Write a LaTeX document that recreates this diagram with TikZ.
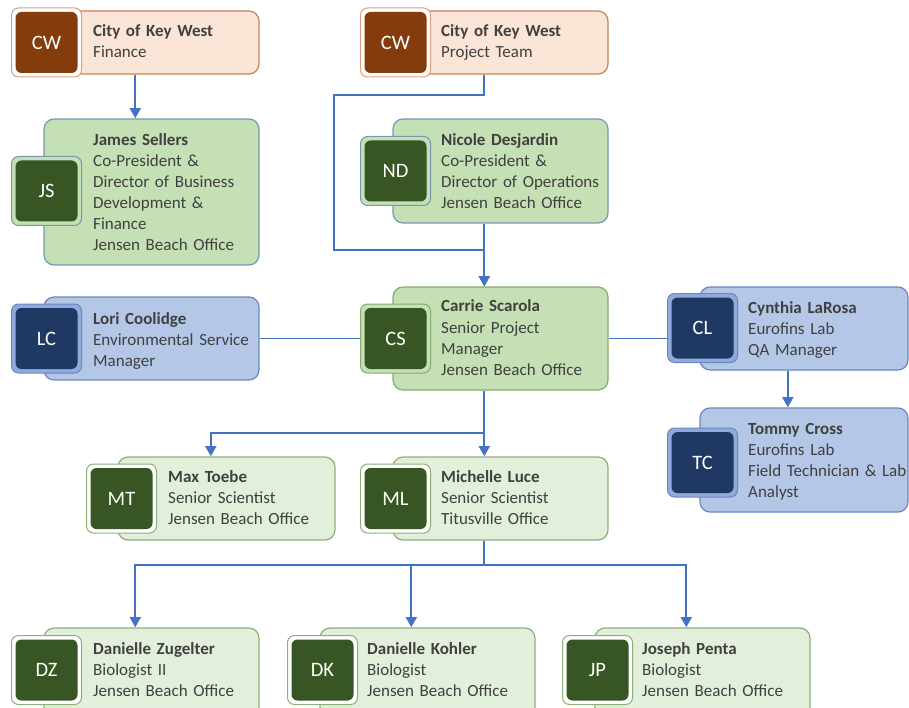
\documentclass[tikz,border=0pt]{standalone}
\usepackage{fontspec}
\setmainfont{Carlito}
\usetikzlibrary{arrows.meta,fit}
\definecolor{pfill}{HTML}{FBE5D6}
\definecolor{pline}{HTML}{C8824F}
\definecolor{pav}{HTML}{DDA17A}
\definecolor{pdark}{HTML}{843C0C}
\definecolor{gfill}{HTML}{C5E0B4}
\definecolor{gbline}{HTML}{7B96B2}
\definecolor{ggline}{HTML}{86AC6E}
\definecolor{gdark}{HTML}{375623}
\definecolor{lgfill}{HTML}{E2EFDA}
\definecolor{lgline}{HTML}{8DB07A}
\definecolor{bfill}{HTML}{B4C7E7}
\definecolor{bring}{HTML}{8FAADC}
\definecolor{bline}{HTML}{6A87BF}
\definecolor{bdark}{HTML}{203864}
\definecolor{cline}{HTML}{4472C4}
\definecolor{tgray}{HTML}{404040}
\tikzset{
  cardbox/.style={rectangle, rounded corners=10pt, line width=1.2pt, inner sep=0pt},
  avout/.style={rectangle, rounded corners=7pt, line width=1pt, minimum width=70pt, minimum height=69pt, inner sep=0pt},
  avin/.style={rectangle, rounded corners=6pt, minimum width=62pt, minimum height=61pt, inner sep=0pt, text=white, font=\fontsize{20.5}{22}\selectfont},
  boxpeach/.style={cardbox, fill=pfill, draw=pline},
  avoutpeach/.style={avout, fill=white, draw=pav},
  avinpeach/.style={avin, fill=pdark},
  boxgb/.style={cardbox, fill=gfill, draw=gbline},
  avoutgb/.style={avout, fill=gfill, draw=gbline},
  avingb/.style={avin, fill=gdark},
  boxgg/.style={cardbox, fill=gfill, draw=ggline},
  avoutgg/.style={avout, fill=gfill, draw=ggline},
  avingg/.style={avin, fill=gdark},
  boxlg/.style={cardbox, fill=lgfill, draw=lgline},
  avoutlg/.style={avout, fill=white, draw=lgline},
  avinlg/.style={avin, fill=gdark},
  boxbl/.style={cardbox, fill=bfill, draw=bline},
  avoutbl/.style={avout, fill=bring, draw=bline},
  avinbl/.style={avin, fill=bdark},
  txt/.style={inner sep=0pt, text width=220pt, align=left, font=\fontsize{17}{21}\selectfont, text=tgray},
  conn/.style={draw=cline, line width=1.7pt},
  arr/.style={conn, -{Triangle[width=11pt,length=10pt]}},
}
\newcommand\card[9]{%
  \node[box#2, fit={#6 #7}] (#1-box) {};
  \node[avout#2, anchor=west] (#1-av) at (#3,#4) {};
  \node[avin#2] (#1-ini) at (#1-av.center) {#5};
  \node[fit=(#1-box)(#1-av.west), inner sep=0pt] (#1) {};
  \node[txt, anchor=base west] (#1-txt) at #8 {#9};
}
\begin{document}
\begin{tikzpicture}[x=1pt,y=-1pt]
\useasboundingbox (0,0) rectangle (909,708);
\clip (0,0) rectangle (909,708);
\card{cw1}{peach}{11}{42.5}{CW}{(34,11)}{(259,74)}{(93,37)}{\textbf{City of Key West}\\Finance}
\card{cw2}{peach}{360}{42.5}{CW}{(382,11)}{(608,74)}{(441,37)}{\textbf{City of Key West}\\Project Team}
\card{js}{gb}{11}{191}{JS}{(44,119)}{(259,265)}{(93,146)}{\textbf{James Sellers}\\Co-President \&\\Director of Business\\Development \&\\Finance\\Jensen Beach Office}
\card{nd}{gb}{360}{171}{ND}{(393,119)}{(608,223)}{(441,146)}{\textbf{Nicole Desjardin}\\Co-President \&\\Director of Operations\\Jensen Beach Office}
\card{cs}{gg}{360}{338.5}{CS}{(393,287)}{(608,390)}{(441,312)}{\textbf{Carrie Scarola}\\Senior Project\\Manager\\Jensen Beach Office}
\card{lc}{bl}{11}{338.5}{LC}{(44,297)}{(259,380)}{(93,324)}{\textbf{Lori Coolidge}\\Environmental Service\\Manager}
\card{cl}{bl}{667}{328}{CL}{(700,287)}{(908,370)}{(748,313)}{\textbf{Cynthia LaRosa}\\Eurofins Lab\\QA Manager}
\card{tc}{bl}{667}{462.5}{TC}{(700,408)}{(908,512)}{(748,434)}{\textbf{Tommy Cross}\\Eurofins Lab\\Field Technician \& Lab\\Analyst}
\card{mt}{lg}{86}{498.5}{MT}{(118,457)}{(335,540)}{(168,482)}{\textbf{Max Toebe}\\Senior Scientist\\Jensen Beach Office}
\card{ml}{lg}{360}{498.5}{ML}{(393,457)}{(608,540)}{(441,482)}{\textbf{Michelle Luce}\\Senior Scientist\\Titusville Office}
\card{dz}{lg}{11}{670}{DZ}{(44,628)}{(259,722)}{(93,654)}{\textbf{Danielle Zugelter}\\Biologist II\\Jensen Beach Office}
\card{dk}{lg}{287}{670}{DK}{(320,628)}{(535,722)}{(367,654)}{\textbf{Danielle Kohler}\\Biologist\\Jensen Beach Office}
\card{jp}{lg}{562}{670}{JP}{(595,628)}{(810,722)}{(642,654)}{\textbf{Joseph Penta}\\Biologist\\Jensen Beach Office}
% connectors
\coordinate (bendA) at (334,95);
\coordinate (bendB) at (334,250);
\draw[arr] (cw1.south) -- (js.north);
\draw[arr] (cw2.south) |- (bendA) -- (bendB) -| (cs.north);
\draw[arr] (nd.south) -- (cs.north);
\draw[conn] (lc.east) -- (cs-av.west);
\draw[conn] (cs.east) -- (cs.east -| cl-av.west);
\draw[arr] (cl.south) -- (tc.north);
\draw[arr] (cs.south) -- ++(0,42) -| (mt.north);
\draw[arr] (cs.south) -- (ml.north);
\draw[arr] (ml.south) -- ++(0,24) -| (dz.north);
\draw[arr] (ml.south) -- ++(0,24) -| (dk.north);
\draw[arr] (ml.south) -- ++(0,24) -| (jp.north);
\end{tikzpicture}
\end{document}
